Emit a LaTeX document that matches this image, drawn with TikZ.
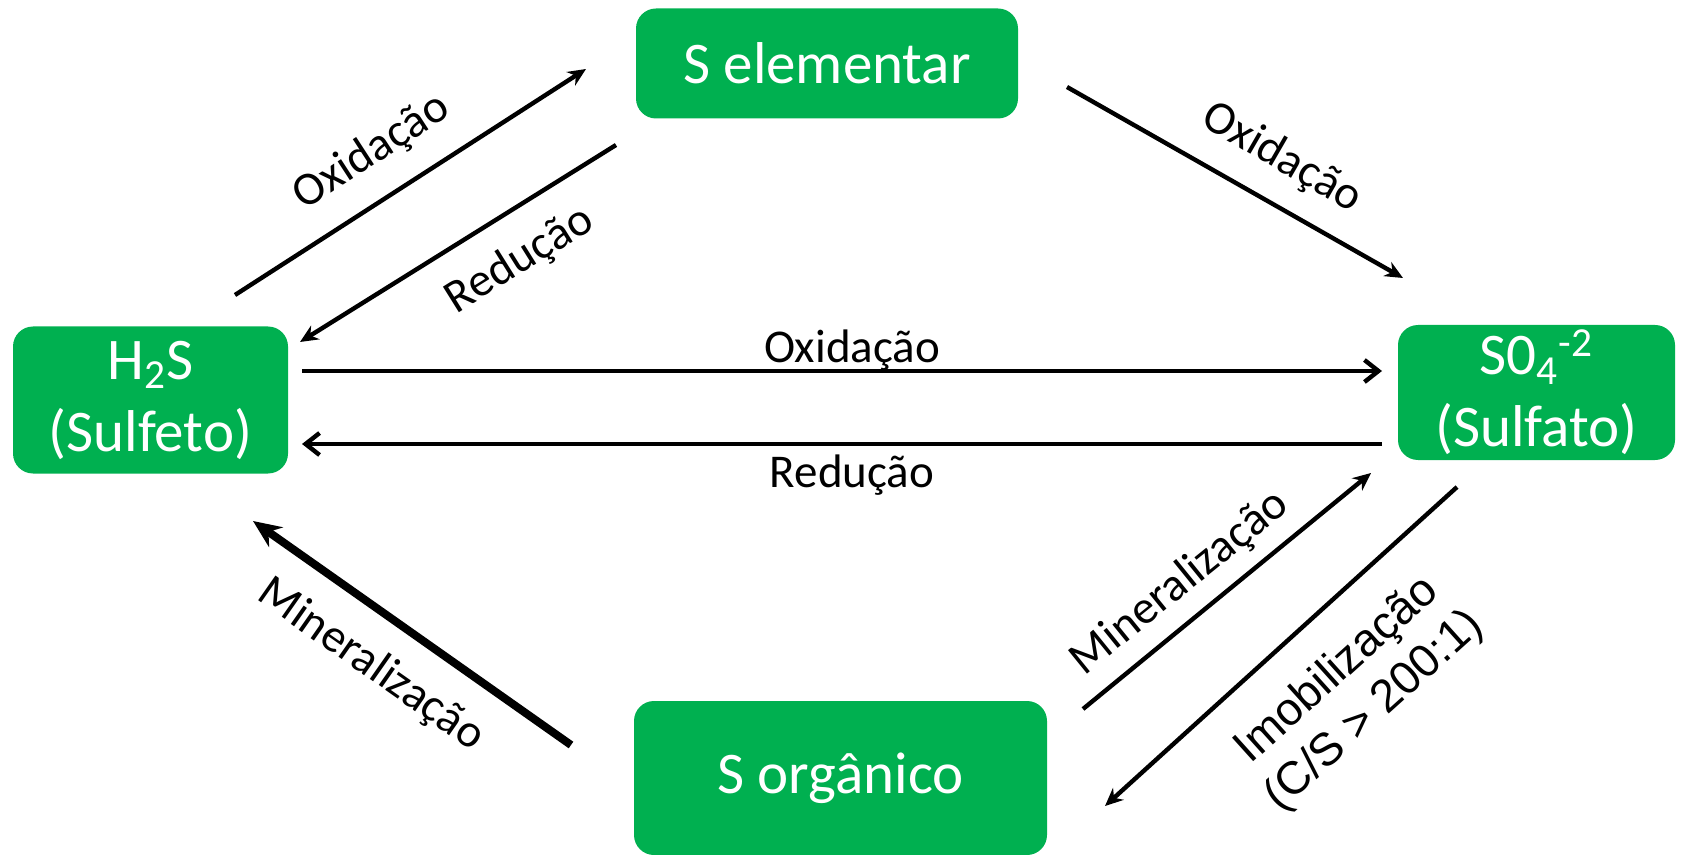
\documentclass[tikz,border=0pt]{standalone}
\usepackage{fontspec}
\setmainfont{Carlito}
\newfontfamily\arialfont{Liberation Sans}
\usepackage{xcolor}
\usetikzlibrary{arrows.meta}

\definecolor{boxgreen}{HTML}{00B050}
\tikzset{
  box/.style={fill=boxgreen, rounded corners=10pt, text=white, align=center,
    inner sep=0pt, font=\fontsize{29.5}{36}\selectfont},
  lbl/.style={font=\fontsize{23.5}{27}\selectfont},
  arr/.style={line width=2.2pt, -{Stealth[length=9pt,width=8pt]}},
  arrv/.style={line width=2.2pt, -{Straight Barb[length=7pt,width=11pt]}},
}

\begin{document}
\begin{tikzpicture}[x=0.5pt, y=-0.5pt]
  \useasboundingbox (0,0) rectangle (1685,855);
  % boxes
  \node[box, minimum width=137.5pt, minimum height=73.5pt] (h2s) at (150.5,400)
      {H\textsubscript{2}S\\(Sulfeto)};
  \node[box, minimum width=138.5pt, minimum height=67.5pt] (so4) at (1536.5,392.5)
      {S0\textsubscript{4}\textsuperscript{-2}\\(Sulfato)};
  \node[box, minimum width=191pt, minimum height=55pt] (selem) at (827,63.5)
      {S elementar};
  \node[box, minimum width=206.5pt, minimum height=77pt] (sorg) at (840.5,778)
      {S orgânico};
  % arrow ends
  \coordinate (a1) at (235,295);   \coordinate (b1) at (586,69);
  \coordinate (a2) at (616,145);   \coordinate (b2) at (300,342);
  \coordinate (a3) at (1067,87);   \coordinate (b3) at (1403,278);
  \coordinate (a4) at (302,371);   \coordinate (b4) at (1382,371);
  \coordinate (a5) at (1382,444);  \coordinate (b5) at (302,444);
  \coordinate (a6) at (571,745);   \coordinate (b6) at (253,521);
  \coordinate (a7) at (1083,709);  \coordinate (b7) at (1371,473);
  \coordinate (a8) at (1457,487);  \coordinate (b8) at (1105,806);
  % arrows
  \draw[arr] (a1) -- (b1);
  \draw[arr] (a2) -- (b2);
  \draw[arr] (a3) -- (b3);
  \draw[arrv] (a4) -- (b4);
  \draw[arrv] (a5) -- (b5);
  \draw[line width=4pt, -{Stealth[length=14pt,width=12pt]}] (a6) -- (b6);
  \draw[arr] (a7) -- (b7);
  \draw[arr] (a8) -- (b8);
  % labels
  \node[lbl, rotate=33] (oxa) at (372,152) {Oxidação};
  \node[lbl, rotate=32] (reda) at (520,260) {Redução};
  \node[lbl, rotate=-30] (oxb) at (1282,158) {Oxidação};
  \node[lbl, anchor=base] (oxc) at (852,363) {Oxidação};
  \node[lbl, anchor=base] (redb) at (852,487) {Redução};
  \node[lbl, rotate=-35] (mina) at (371,665) {Mineralização};
  \node[lbl, rotate=39] (minb) at (1180,583) {Mineralização};
  \node[font=\arialfont\fontsize{23}{27.5}\selectfont, align=center, rotate=42]
      (imob) at (1356,691) {Imobilização\\(C/S > 200:1)};
\end{tikzpicture}
\end{document}
